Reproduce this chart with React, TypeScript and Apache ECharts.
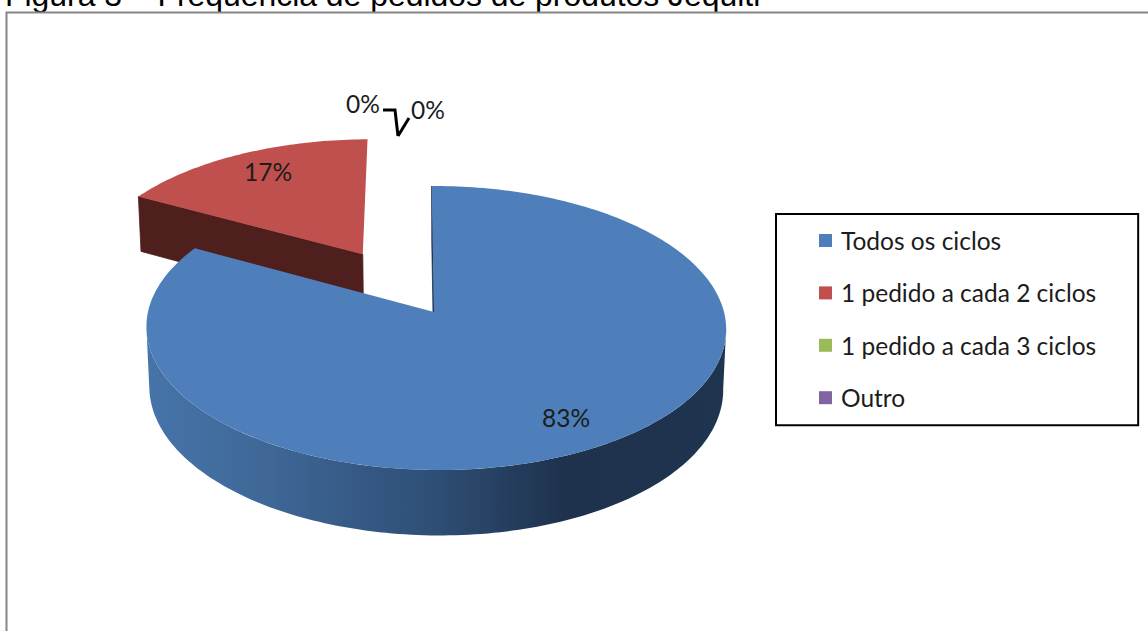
import React, { useEffect, useRef } from "react";
import * as echarts from "echarts";

const categories = ["Todos os ciclos", "1 pedido a cada 2 ciclos", "1 pedido a cada 3 ciclos", "Outro"];
const shares = [83, 17, 0, 0];
const titleText = "Figura 3 – Frequência de pedidos de produtos Jequiti";

const topColors = ["#4f7fba", "#c0504d", "#9bbb59", "#8064a2"];
const cutColors = ["#1f344f", "#4e1f1d", "#4e5e2c", "#403251"];
const sliceExplode = [0, 0.503, 0, 0];
const labelSpots: [number, number][] = [[566, 417], [268, 171], [363, 103.5], [428, 109]];

// Perspective camera of the tilted disc: u runs right, v runs away, z runs down.
function project(u: number, v: number, z: number): [number, number] {
  const w = 1 + 0.1127 * v - 0.0069 * u + 0.01 * z;
  return [434 + (288 * u - 2.5 * v) / w, 312 + (-140.2 * v + 60.3 * z) / w];
}

function sliceGeometry(index: number) {
  const total = shares.reduce((a, b) => a + b, 0);
  const before = shares.slice(0, index).reduce((a, b) => a + b, 0);
  const start = (before / total) * Math.PI * 2;
  const end = ((before + shares[index]) / total) * Math.PI * 2;
  const mid = (start + end) / 2;
  const ou = sliceExplode[index] * Math.sin(mid);
  const ov = sliceExplode[index] * Math.cos(mid);
  const rim = (t: number, z: number) => project(ou + Math.sin(t), ov + Math.cos(t), z);
  const arc = (from: number, to: number, z: number) => {
    const steps = Math.max(2, Math.ceil(Math.abs(to - from) / 0.02));
    const pts: [number, number][] = [];
    for (let i = 0; i <= steps; i++) pts.push(rim(from + ((to - from) * i) / steps, z));
    return pts;
  };
  return { start, end, ou, ov, arc, rim };
}

function renderSlice(index: number) {
  return (_params: any, api: any) => {
    const value = api.value(0);
    const children: any[] = [];
    if (value > 0) {
      const { start, end, ou, ov, arc, rim } = sliceGeometry(index);
      const apexTop = project(ou, ov, 0);
      const apexBottom = project(ou, ov, 1);
      // Rim wall between the two silhouette angles of the disc.
      const from = Math.max(start, Math.PI * 0.536);
      const to = Math.min(end, Math.PI * 1.464);
      if (to > from) {
        children.push({
          type: "polygon",
          shape: { points: [...arc(from, to, 0), ...arc(to, from, 1)] },
          style: {
            fill: new echarts.graphic.LinearGradient(146, 0, 726, 0, [
              { offset: 0, color: "#4674a9" },
              { offset: 0.2, color: "#3f6898" },
              { offset: 0.5, color: "#2e4e75" },
              { offset: 0.72, color: "#1e324d" },
              { offset: 1, color: "#1f344f" },
            ], true),
          },
        });
      }
      // Cut face that looks toward the camera.
      children.push({
        type: "polygon",
        shape: { points: [apexTop, rim(start, 0), rim(start, 1), apexBottom] },
        style: { fill: cutColors[index], stroke: cutColors[index], lineWidth: 0.8 },
      });
      // Top face.
      children.push({
        type: "polygon",
        shape: { points: [apexTop, ...arc(start, end, 0)] },
        style: { fill: topColors[index] },
      });
    }
    const [lx, ly] = labelSpots[index];
    children.push({
      type: "text",
      style: {
        text: `${value}%`,
        x: lx,
        y: ly,
        align: "center",
        verticalAlign: "middle",
        font: "24.5px Lato",
        fill: "#1c1c1c",
      },
    });
    return { type: "group", children };
  };
}

export default function App() {
  const ref = useRef<HTMLDivElement>(null);
  useEffect(() => {
    const chart = echarts.init(ref.current!, null, { renderer: "svg" });
    chart.setOption({
      animation: false,
      backgroundColor: "#ffffff",
      legend: {
        orient: "vertical",
        left: 776,
        top: 214,
        padding: [14, 42, 15, 43],
        itemGap: 27.4,
        itemWidth: 13,
        itemHeight: 13,
        icon: "rect",
        selectedMode: false,
        backgroundColor: "#ffffff",
        borderColor: "#000000",
        borderWidth: 2,
        borderRadius: 0,
        textStyle: { fontFamily: "Lato", fontSize: 24.5, color: "#1c1c1c", padding: [0, 0, 0, 4] },
        data: categories,
      },
      graphic: [
        {
          type: "text",
          style: {
            text: titleText,
            x: 5,
            y: -21,
            font: "31.9px 'Liberation Sans'",
            fill: "#000000",
          },
        },
        {
          type: "polyline",
          shape: { points: [[1148, 12.5], [6.5, 12.5], [6.5, 631]] },
          style: { stroke: "#868686", lineWidth: 2, fill: "none" },
        },
        {
          type: "polyline",
          shape: { points: [[383, 110], [395, 110], [398, 136]] },
          style: { stroke: "#000000", lineWidth: 3, fill: "none" },
        },
        {
          type: "polyline",
          shape: { points: [[398, 136], [409, 118]] },
          style: { stroke: "#000000", lineWidth: 3, fill: "none" },
        },
      ],
      series: categories.map((name, i) => ({
        type: "custom",
        name,
        coordinateSystem: "none",
        itemStyle: { color: topColors[i] },
        z: i === 0 ? 3 : 2,
        silent: true,
        data: [[shares[i]]],
        renderItem: renderSlice(i),
      })),
    });
    return () => chart.dispose();
  }, []);
  return <div ref={ref} style={{ position: "absolute", left: 0, top: 0, width: 1148, height: 631 }} />;
}
